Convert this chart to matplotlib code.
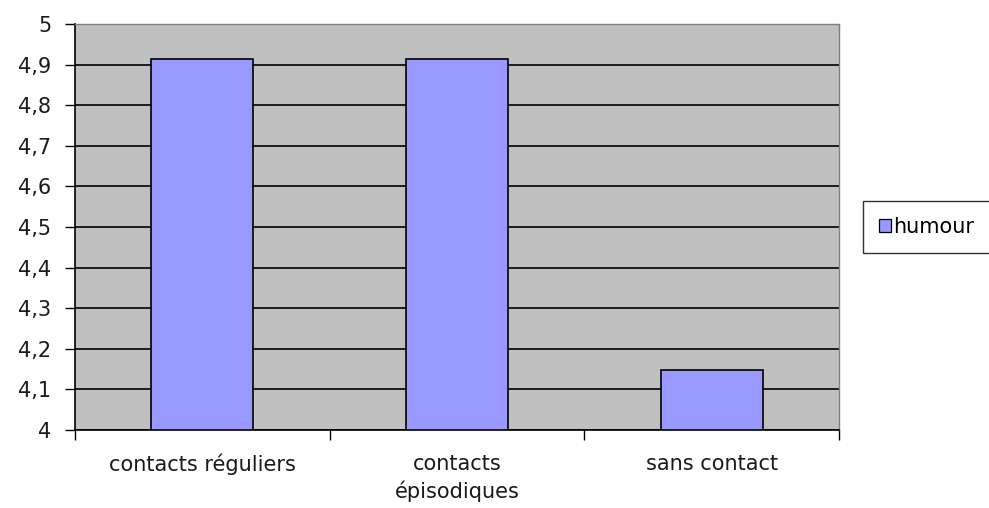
import matplotlib
matplotlib.use("Agg")
import matplotlib.pyplot as plt
from matplotlib.patches import Patch

categories = ["contacts réguliers", "contacts\népisodiques", "sans contact"]
humour = [4.915, 4.915, 4.148]
yticks = [4.0, 4.1, 4.2, 4.3, 4.4, 4.5, 4.6, 4.7, 4.8, 4.9, 5.0]
ytick_labels = ["4", "4,1", "4,2", "4,3", "4,4", "4,5", "4,6", "4,7", "4,8", "4,9", "5"]

plt.rcParams["font.family"] = ["DejaVu Sans"]
fs = 15

fig = plt.figure(figsize=(9.89, 5.08), dpi=100)
ax = fig.add_axes([75 / 989, 1 - 430 / 508, 764 / 989, 406 / 508])
ax.set_facecolor("#c0c0c0")

x = range(len(categories))
ax.bar(x, [v - 4 for v in humour], bottom=4, width=0.4, color="#9999ff",
       edgecolor="black", linewidth=1.2, zorder=3)

ax.set_xlim(-0.5, 2.5)
ax.set_ylim(4, 5)
ax.set_yticks(yticks)
ax.set_yticklabels(ytick_labels, fontsize=fs, color="#1a1a1a")
ax.yaxis.grid(True, color="black", linewidth=1.2, zorder=1)
ax.set_axisbelow(True)

ax.set_xticks([-0.5, 0.5, 1.5, 2.5])
ax.set_xticklabels([])
ax.set_xticks(list(x), minor=True)
ax.set_xticklabels(categories, minor=True, fontsize=fs, linespacing=1.4, color="#1a1a1a")
ax.tick_params(axis="x", which="minor", length=0, pad=17)
ax.tick_params(axis="x", which="major", length=7, width=1, color="black")
ax.tick_params(axis="y", length=7, width=1, pad=10, color="black")

for side in ["top", "right"]:
    ax.spines[side].set_color("#808080")
    ax.spines[side].set_linewidth(1)
for side in ["left", "bottom"]:
    ax.spines[side].set_color("black")
    ax.spines[side].set_linewidth(1.2)

handles = [Patch(facecolor="#9999ff", edgecolor="black", linewidth=0.9, label="humour")]
fig.legend(handles=handles, loc="center left", bbox_to_anchor=(863 / 989, 1 - 227 / 508),
           frameon=True, fancybox=False, edgecolor="black", fontsize=fs,
           handlelength=0.58, handleheight=0.58, handletextpad=0.12, borderpad=0.75,
           borderaxespad=0)

fig.savefig("out.png", dpi=100)
